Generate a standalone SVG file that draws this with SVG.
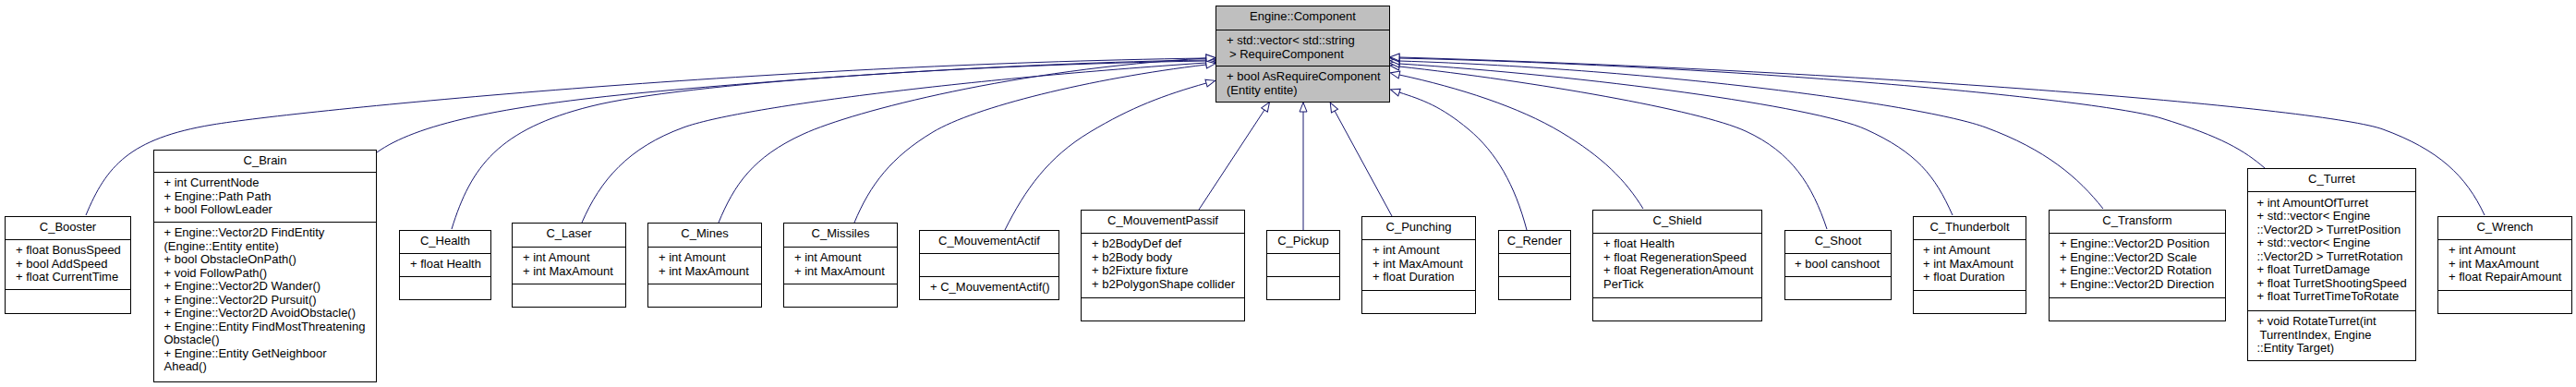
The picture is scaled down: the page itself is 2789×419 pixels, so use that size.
<svg xmlns="http://www.w3.org/2000/svg" width="2789" height="419" viewBox="0 0 2789 419">
<style>
.box{fill:#fff;stroke:#000;stroke-width:1}
.base{fill:#bfbfbf}
.sep{stroke:#000;stroke-width:1}
text{font-family:"Liberation Sans",Arial,sans-serif;font-size:13px;fill:#000}
.c{text-anchor:middle}
.e{fill:none;stroke:#191970;stroke-width:1;marker-end:url(#a)}
</style>
<defs>
<marker id="a" viewBox="0 0 12 10" refX="1" refY="5" markerWidth="12" markerHeight="10" markerUnits="userSpaceOnUse" orient="auto">
<path d="M1,1 L11,5 L1,9 Z" fill="#fff" stroke="#191970" stroke-width="1"/>
</marker>
</defs>
<rect width="2789" height="419" fill="#fff"/>
<g id="connectors">
<path class="e" d="M93,233 C115,180 140,150 230,135 S820,70 1306,63"/>
<path class="e" d="M408,165 C450,135 540,115 700,100 S1100,68 1306,65"/>
<path class="e" d="M489,248 C510,180 540,140 640,115 S1050,70 1306,66"/>
<path class="e" d="M630,241 C650,195 680,160 740,138 S1050,85 1306,68"/>
<path class="e" d="M778,241 C795,200 815,170 870,145 S1100,75 1306,63"/>
<path class="e" d="M925,241 C942,200 965,170 1010,143 S1180,85 1306,70"/>
<path class="e" d="M1088,249 C1110,205 1135,170 1180,143 S1260,103 1306,90"/>
<path class="e" d="M1298,227 L1369,119"/>
<path class="e" d="M1411,249 L1411,121"/>
<path class="e" d="M1507,234 L1445,120"/>
<path class="e" d="M1653,249 C1640,200 1620,165 1590,140 S1540,108 1515,100"/>
<path class="e" d="M1779,226 C1760,195 1735,170 1690,143 S1580,95 1515,81"/>
<path class="e" d="M1978,248 C1962,200 1940,165 1890,142 S1660,88 1515,72"/>
<path class="e" d="M2114,233 C2095,190 2075,165 2020,140 S1720,82 1515,69"/>
<path class="e" d="M2277,226 C2250,192 2215,162 2150,138 S1800,75 1515,66"/>
<path class="e" d="M2452,182 C2430,163 2405,148 2340,128 S1900,72 1515,63"/>
<path class="e" d="M2690,233 C2670,190 2640,162 2580,140 S2050,78 1515,62"/>
</g>
<g id="n_component">
<rect class="box base" x="1316.5" y="6.5" width="188" height="104"/>
<line class="sep" x1="1316.5" y1="32.5" x2="1504.5" y2="32.5"/>
<line class="sep" x1="1316.5" y1="71.5" x2="1504.5" y2="71.5"/>
<text class="c" x="1410.5" y="22">Engine::Component</text>
<text x="1328" y="48">+ std::vector&lt; std::string</text>
<text x="1331" y="62.5">&gt; RequireComponent</text>
<text x="1328" y="87">+ bool AsRequireComponent</text>
<text x="1328" y="101.5">(Entity entite)</text>
</g>
<g id="n_booster">
<rect class="box" x="5.5" y="234.5" width="136" height="105"/>
<line class="sep" x1="5.5" y1="259.5" x2="141.5" y2="259.5"/>
<line class="sep" x1="5.5" y1="313.5" x2="141.5" y2="313.5"/>
<text class="c" x="73.5" y="250">C_Booster</text>
<text x="17" y="275">+ float BonusSpeed</text>
<text x="17" y="289.5">+ bool AddSpeed</text>
<text x="17" y="304">+ float CurrentTime</text>
</g>
<g id="n_brain">
<rect class="box" x="166.5" y="162.5" width="241" height="251"/>
<line class="sep" x1="166.5" y1="186.5" x2="407.5" y2="186.5"/>
<line class="sep" x1="166.5" y1="240.5" x2="407.5" y2="240.5"/>
<text class="c" x="287" y="178">C_Brain</text>
<text x="177.5" y="202">+ int CurrentNode</text>
<text x="177.5" y="216.5">+ Engine::Path Path</text>
<text x="177.5" y="231">+ bool FollowLeader</text>
<text x="177.5" y="256">+ Engine::Vector2D FindEntity</text>
<text x="177.5" y="270.5">(Engine::Entity entite)</text>
<text x="177.5" y="285">+ bool ObstacleOnPath()</text>
<text x="177.5" y="299.5">+ void FollowPath()</text>
<text x="177.5" y="314">+ Engine::Vector2D Wander()</text>
<text x="177.5" y="328.5">+ Engine::Vector2D Pursuit()</text>
<text x="177.5" y="343">+ Engine::Vector2D AvoidObstacle()</text>
<text x="177.5" y="357.5">+ Engine::Entity FindMostThreatening</text>
<text x="177.5" y="372">Obstacle()</text>
<text x="177.5" y="386.5">+ Engine::Entity GetNeighboor</text>
<text x="177.5" y="401">Ahead()</text>
</g>
<g id="n_health">
<rect class="box" x="432.5" y="249.5" width="99" height="75"/>
<line class="sep" x1="432.5" y1="274.5" x2="531.5" y2="274.5"/>
<line class="sep" x1="432.5" y1="299.5" x2="531.5" y2="299.5"/>
<text class="c" x="482" y="265">C_Health</text>
<text x="444" y="290">+ float Health</text>
</g>
<g id="n_laser">
<rect class="box" x="554.5" y="241.5" width="123" height="91"/>
<line class="sep" x1="554.5" y1="267.5" x2="677.5" y2="267.5"/>
<line class="sep" x1="554.5" y1="307.5" x2="677.5" y2="307.5"/>
<text class="c" x="616" y="257">C_Laser</text>
<text x="566" y="283">+ int Amount</text>
<text x="566" y="297.5">+ int MaxAmount</text>
</g>
<g id="n_mines">
<rect class="box" x="701.5" y="241.5" width="123" height="91"/>
<line class="sep" x1="701.5" y1="267.5" x2="824.5" y2="267.5"/>
<line class="sep" x1="701.5" y1="307.5" x2="824.5" y2="307.5"/>
<text class="c" x="763" y="257">C_Mines</text>
<text x="713" y="283">+ int Amount</text>
<text x="713" y="297.5">+ int MaxAmount</text>
</g>
<g id="n_missiles">
<rect class="box" x="848.5" y="241.5" width="123" height="91"/>
<line class="sep" x1="848.5" y1="267.5" x2="971.5" y2="267.5"/>
<line class="sep" x1="848.5" y1="307.5" x2="971.5" y2="307.5"/>
<text class="c" x="910" y="257">C_Missiles</text>
<text x="860" y="283">+ int Amount</text>
<text x="860" y="297.5">+ int MaxAmount</text>
</g>
<g id="n_mouvementactif">
<rect class="box" x="995.5" y="249.5" width="151" height="75"/>
<line class="sep" x1="995.5" y1="274.5" x2="1146.5" y2="274.5"/>
<line class="sep" x1="995.5" y1="299.5" x2="1146.5" y2="299.5"/>
<text class="c" x="1071" y="265">C_MouvementActif</text>
<text x="1007" y="315">+ C_MouvementActif()</text>
</g>
<g id="n_mouvementpassif">
<rect class="box" x="1170.5" y="227.5" width="177" height="120"/>
<line class="sep" x1="1170.5" y1="252.5" x2="1347.5" y2="252.5"/>
<line class="sep" x1="1170.5" y1="322.5" x2="1347.5" y2="322.5"/>
<text class="c" x="1259" y="243">C_MouvementPassif</text>
<text x="1182" y="268">+ b2BodyDef def</text>
<text x="1182" y="282.5">+ b2Body body</text>
<text x="1182" y="297">+ b2Fixture fixture</text>
<text x="1182" y="311.5">+ b2PolygonShape collider</text>
</g>
<g id="n_pickup">
<rect class="box" x="1371.5" y="249.5" width="79" height="75"/>
<line class="sep" x1="1371.5" y1="274.5" x2="1450.5" y2="274.5"/>
<line class="sep" x1="1371.5" y1="299.5" x2="1450.5" y2="299.5"/>
<text class="c" x="1411" y="265">C_Pickup</text>
</g>
<g id="n_punching">
<rect class="box" x="1474.5" y="234.5" width="123" height="105"/>
<line class="sep" x1="1474.5" y1="259.5" x2="1597.5" y2="259.5"/>
<line class="sep" x1="1474.5" y1="314.5" x2="1597.5" y2="314.5"/>
<text class="c" x="1536" y="250">C_Punching</text>
<text x="1486" y="275">+ int Amount</text>
<text x="1486" y="289.5">+ int MaxAmount</text>
<text x="1486" y="304">+ float Duration</text>
</g>
<g id="n_render">
<rect class="box" x="1622.5" y="249.5" width="78" height="75"/>
<line class="sep" x1="1622.5" y1="274.5" x2="1700.5" y2="274.5"/>
<line class="sep" x1="1622.5" y1="299.5" x2="1700.5" y2="299.5"/>
<text class="c" x="1661.5" y="265">C_Render</text>
</g>
<g id="n_shield">
<rect class="box" x="1724.5" y="227.5" width="183" height="120"/>
<line class="sep" x1="1724.5" y1="252.5" x2="1907.5" y2="252.5"/>
<line class="sep" x1="1724.5" y1="322.5" x2="1907.5" y2="322.5"/>
<text class="c" x="1816" y="243">C_Shield</text>
<text x="1736" y="268">+ float Health</text>
<text x="1736" y="282.5">+ float RegenerationSpeed</text>
<text x="1736" y="297">+ float RegenerationAmount</text>
<text x="1736" y="311.5">PerTick</text>
</g>
<g id="n_shoot">
<rect class="box" x="1932.5" y="249.5" width="115" height="75"/>
<line class="sep" x1="1932.5" y1="274.5" x2="2047.5" y2="274.5"/>
<line class="sep" x1="1932.5" y1="299.5" x2="2047.5" y2="299.5"/>
<text class="c" x="1990" y="265">C_Shoot</text>
<text x="1943" y="290">+ bool canshoot</text>
</g>
<g id="n_thunderbolt">
<rect class="box" x="2071.5" y="234.5" width="122" height="105"/>
<line class="sep" x1="2071.5" y1="259.5" x2="2193.5" y2="259.5"/>
<line class="sep" x1="2071.5" y1="314.5" x2="2193.5" y2="314.5"/>
<text class="c" x="2132.5" y="250">C_Thunderbolt</text>
<text x="2082" y="275">+ int Amount</text>
<text x="2082" y="289.5">+ int MaxAmount</text>
<text x="2082" y="304">+ float Duration</text>
</g>
<g id="n_transform">
<rect class="box" x="2218.5" y="227.5" width="191" height="120"/>
<line class="sep" x1="2218.5" y1="252.5" x2="2409.5" y2="252.5"/>
<line class="sep" x1="2218.5" y1="322.5" x2="2409.5" y2="322.5"/>
<text class="c" x="2314" y="243">C_Transform</text>
<text x="2230" y="268">+ Engine::Vector2D Position</text>
<text x="2230" y="282.5">+ Engine::Vector2D Scale</text>
<text x="2230" y="297">+ Engine::Vector2D Rotation</text>
<text x="2230" y="311.5">+ Engine::Vector2D Direction</text>
</g>
<g id="n_turret">
<rect class="box" x="2433.5" y="182.5" width="182" height="208"/>
<line class="sep" x1="2433.5" y1="207.5" x2="2615.5" y2="207.5"/>
<line class="sep" x1="2433.5" y1="336.5" x2="2615.5" y2="336.5"/>
<text class="c" x="2524.5" y="198">C_Turret</text>
<text x="2443.5" y="223.5">+ int AmountOfTurret</text>
<text x="2443.5" y="238">+ std::vector&lt; Engine</text>
<text x="2443.5" y="252.5">::Vector2D &gt; TurretPosition</text>
<text x="2443.5" y="267">+ std::vector&lt; Engine</text>
<text x="2443.5" y="281.5">::Vector2D &gt; TurretRotation</text>
<text x="2443.5" y="296">+ float TurretDamage</text>
<text x="2443.5" y="310.5">+ float TurretShootingSpeed</text>
<text x="2443.5" y="325">+ float TurretTimeToRotate</text>
<text x="2443.5" y="352">+ void RotateTurret(int</text>
<text x="2446.5" y="366.5">TurrentIndex, Engine</text>
<text x="2443.5" y="381">::Entity Target)</text>
</g>
<g id="n_wrench">
<rect class="box" x="2639.5" y="234.5" width="145" height="105"/>
<line class="sep" x1="2639.5" y1="259.5" x2="2784.5" y2="259.5"/>
<line class="sep" x1="2639.5" y1="314.5" x2="2784.5" y2="314.5"/>
<text class="c" x="2712" y="250">C_Wrench</text>
<text x="2651" y="275">+ int Amount</text>
<text x="2651" y="289.5">+ int MaxAmount</text>
<text x="2651" y="304">+ float RepairAmount</text>
</g>
</svg>
